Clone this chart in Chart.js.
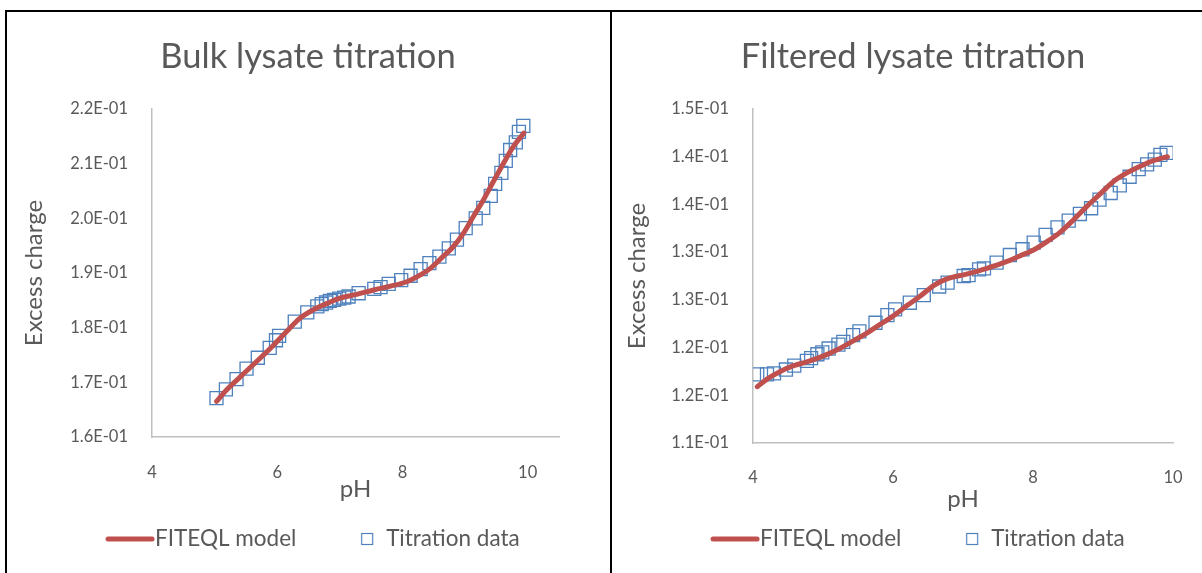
<!DOCTYPE html>
<html><head><meta charset="utf-8">
<script src="https://cdn.jsdelivr.net/npm/chart.js@4/dist/chart.umd.min.js"></script>
<style>
html,body{margin:0;padding:0;background:#fff;overflow:hidden;width:1202px;height:573px;}
#frame{position:absolute;left:5px;top:10px;width:1300px;height:600px;border-top:2px solid #000;border-left:2px solid #000;}
#divider{position:absolute;left:610px;top:10px;width:2px;height:600px;background:#000;}
canvas{position:absolute;top:12px;}
#c1{left:7px} #c2{left:612px}
</style></head><body>
<div id="frame"></div><div id="divider"></div>
<canvas id="c1" width="602" height="561"></canvas>
<canvas id="c2" width="602" height="561"></canvas>
<script>
// ---- Bulk lysate titration ----
const bulkTitle = "Bulk lysate titration";
const bulkModelPH = [5.03,5.19,5.41,5.67,5.94,6.15,6.36,6.58,6.79,7.00,7.27,7.54,7.81,8.07,8.28,8.44,8.60,8.81,8.97,9.13,9.29,9.45,9.61,9.77,9.94];
const bulkModelCharge = [0.1665,0.1686,0.1710,0.1738,0.1768,0.1793,0.1817,0.1833,0.1844,0.1854,0.1861,0.1869,0.1876,0.1884,0.1896,0.1908,0.1925,0.1948,0.1972,0.2003,0.2033,0.2067,0.2100,0.2131,0.2156];
const bulkDataPH = [5.03,5.18,5.35,5.51,5.69,5.88,5.98,6.03,6.28,6.48,6.64,6.71,6.78,6.84,6.91,6.99,7.07,7.14,7.30,7.55,7.65,7.78,7.98,8.13,8.29,8.43,8.59,8.74,8.87,9.01,9.17,9.29,9.41,9.48,9.58,9.65,9.72,9.81,9.86,9.93];
const bulkDataCharge = [0.1671,0.1687,0.1706,0.1725,0.1745,0.1763,0.1777,0.1785,0.1811,0.1828,0.1839,0.1843,0.1846,0.1849,0.1851,0.1853,0.1855,0.1857,0.1863,0.1871,0.1874,0.1880,0.1887,0.1895,0.1907,0.1918,0.1930,0.1945,0.1961,0.1982,0.2000,0.2019,0.2041,0.2063,0.2083,0.2105,0.2125,0.2139,0.2158,0.2169];
const bulkYTickValues = [0.16,0.17,0.18,0.19,0.20,0.21,0.22];
const bulkYTickLabels = ["1.6E-01","1.7E-01","1.8E-01","1.9E-01","2.0E-01","2.1E-01","2.2E-01"];
const bulkXRange = [4, 10.5];

// ---- Filtered lysate titration ----
const filtTitle = "Filtered lysate titration";
const filtModelPH = [4.06,4.20,4.39,4.58,4.77,5.00,5.24,5.48,5.62,5.81,6.00,6.20,6.39,6.58,6.77,7.05,7.34,7.62,7.81,8.00,8.20,8.39,8.58,8.77,8.96,9.15,9.34,9.53,9.72,9.92];
const filtModelCharge = [0.1159,0.1167,0.1175,0.1181,0.1185,0.1191,0.1199,0.1209,0.1215,0.1224,0.1233,0.1244,0.1254,0.1265,0.1272,0.1277,0.1283,0.1290,0.1296,0.1302,0.1311,0.1321,0.1334,0.1348,0.1361,0.1374,0.1383,0.1390,0.1396,0.1400];
const filtDataPH = [4.06,4.20,4.30,4.47,4.59,4.77,4.83,4.92,4.99,5.08,5.22,5.29,5.43,5.52,5.75,5.92,6.03,6.24,6.44,6.66,6.78,7.01,7.08,7.23,7.30,7.48,7.67,7.85,8.01,8.18,8.35,8.51,8.67,8.83,8.95,9.11,9.24,9.38,9.51,9.63,9.74,9.82,9.91];
const filtDataCharge = [0.1172,0.1172,0.1173,0.1177,0.1181,0.1186,0.1189,0.1193,0.1195,0.1199,0.1203,0.1206,0.1213,0.1217,0.1226,0.1234,0.1240,0.1247,0.1255,0.1264,0.1268,0.1275,0.1276,0.1282,0.1283,0.1289,0.1297,0.1303,0.1310,0.1318,0.1326,0.1333,0.1340,0.1346,0.1355,0.1362,0.1370,0.1379,0.1387,0.1392,0.1397,0.1402,0.1404];
const filtYTickValues = [0.11,0.115,0.12,0.125,0.13,0.135,0.14,0.145];
const filtYTickLabels = ["1.1E-01","1.2E-01","1.2E-01","1.3E-01","1.3E-01","1.4E-01","1.4E-01","1.5E-01"];
const filtXRange = [4, 10];

// ---- shared ----
const xTickValues = [4,6,8,10];
const xTitle = "pH";
const yTitle = "Excess charge";
const seriesNames = ["FITEQL model", "Titration data"];

const RED = '#C0504D', BLUE = '#4F81BD', TXT = '#595959', AXIS = '#BFBFBF';
const FONT = 'Lato, "Open Sans", sans-serif';
const LEG_FS = 22.5, LEG_PAD = 51, LEG_BOX = 27.5;

function legendLineImg(){
  const c = document.createElement('canvas'); c.width = 50; c.height = 8;
  const g = c.getContext('2d'); g.strokeStyle = RED; g.lineWidth = 5; g.lineCap = 'round';
  g.beginPath(); g.moveTo(3,4); g.lineTo(47,4); g.stroke(); return c;
}
function legendSquareImg(){
  const c = document.createElement('canvas'); c.width = 28; c.height = 14;
  const g = c.getContext('2d'); g.strokeStyle = BLUE; g.lineWidth = 1.2;
  g.strokeRect(14.5, 1.5, 11, 11); return c;
}
const pts = (xs, ys) => xs.map((x, i) => ({x, y: ys[i]}));

// moves the (library-drawn) legend to the reference position after layout
const legendPlace = {
  id: 'legendPlace',
  afterLayout(chart, args, opts) {
    const l = chart.legend; if (!l) return;
    const h = LEG_FS + LEG_PAD + 20;
    l.top = opts.top; l.bottom = opts.top + h; l.height = h;
    l.left += opts.dx; l.right += opts.dx;
  }
};

function makeChart(id, o){
  return new Chart(document.getElementById(id), {
    type: 'scatter',
    plugins: [legendPlace],
    data: { datasets: [
      { label: seriesNames[0], data: pts(o.mPH, o.mQ), showLine: true, borderColor: RED, backgroundColor: RED,
        borderWidth: 5, pointRadius: 0, cubicInterpolationMode: 'monotone', borderCapStyle: 'round', yAxisID: 'y' },
      { label: seriesNames[1], data: pts(o.dPH, o.dQ), showLine: false, pointStyle: 'rect', pointRadius: 9.2,
        borderColor: BLUE, backgroundColor: 'rgba(0,0,0,0)', pointBorderWidth: 1.3, yAxisID: 'y' }
    ]},
    options: {
      responsive: false, animation: false, devicePixelRatio: 1,
      layout: { padding: 0 },
      plugins: {
        tooltip: { enabled: false },
        legendPlace: { top: 527 - LEG_PAD - LEG_FS / 2, dx: 10 },
        title: { display: true, text: o.title, color: TXT, font: { family: FONT, size: 34.5, weight: 'normal' },
                 padding: { top: 24.3, bottom: 31.3 } },
        legend: { position: 'bottom', maxHeight: 30, labels: {
          usePointStyle: true, pointStyleWidth: LEG_BOX, padding: LEG_PAD, color: TXT,
          font: { family: FONT, size: LEG_FS },
          generateLabels: (chart) => [
            { text: seriesNames[0], pointStyle: legendLineImg(), fontColor: TXT, datasetIndex: 0, lineWidth: 0, strokeStyle: 'rgba(0,0,0,0)', fillStyle: 'rgba(0,0,0,0)' },
            { text: seriesNames[1], pointStyle: legendSquareImg(), fontColor: TXT, datasetIndex: 1, lineWidth: 0, strokeStyle: 'rgba(0,0,0,0)', fillStyle: 'rgba(0,0,0,0)' }
          ] } }
      },
      scales: {
        x: { type: 'linear', min: o.xRange[0], max: o.xRange[1],
          afterBuildTicks: s => { s.ticks = xTickValues.map(v => ({value: v})); },
          afterFit: s => { s.height = o.xH; },
          grid: { display: false, drawTicks: false },
          border: { display: true, color: AXIS, width: 1.5 },
          ticks: { color: TXT, font: { family: FONT, size: 16.5 }, padding: o.xTickPad, maxRotation: 0 },
          title: { display: true, text: xTitle, color: TXT, font: { family: FONT, size: 24 }, padding: { top: 0, bottom: o.xTitlePB } } },
        y: { type: 'linear', position: 'left', min: o.yVals[0], max: o.yVals[o.yVals.length - 1],
          afterBuildTicks: s => { s.ticks = o.yVals.map(v => ({value: v})); },
          afterFit: s => { s.width = o.yW; },
          grid: { display: false, drawTicks: false },
          border: { display: true, color: AXIS, width: 1.5 },
          ticks: { color: TXT, font: { family: FONT, size: 16.5 }, padding: 24, callback: (v, i) => o.yLabels[i] },
          title: { display: true, text: yTitle, color: TXT, font: { family: FONT, size: 24 }, padding: { top: o.yTitlePT, bottom: 0 } } },
        yR: { type: 'linear', position: 'right', display: true,
          afterFit: s => { s.width = o.rightGap; },
          grid: { display: false, drawTicks: false }, border: { display: false },
          ticks: { display: false }, title: { display: false } }
      }
    }
  });
}

makeChart('c1', { title: bulkTitle, mPH: bulkModelPH, mQ: bulkModelCharge, dPH: bulkDataPH, dQ: bulkDataCharge,
  yVals: bulkYTickValues, yLabels: bulkYTickLabels, xRange: bulkXRange,
  rightGap: 50, xH: 106, xTickPad: 26, xTitlePB: 39.6, yW: 145, yTitlePT: 12.6 });
makeChart('c2', { title: filtTitle, mPH: filtModelPH, mQ: filtModelCharge, dPH: filtDataPH, dQ: filtDataCharge,
  yVals: filtYTickValues, yLabels: filtYTickLabels, xRange: filtXRange,
  rightGap: 41, xH: 100, xTickPad: 25, xTitlePB: 29.6, yW: 141, yTitlePT: 10.6 });
</script>
</body></html>
